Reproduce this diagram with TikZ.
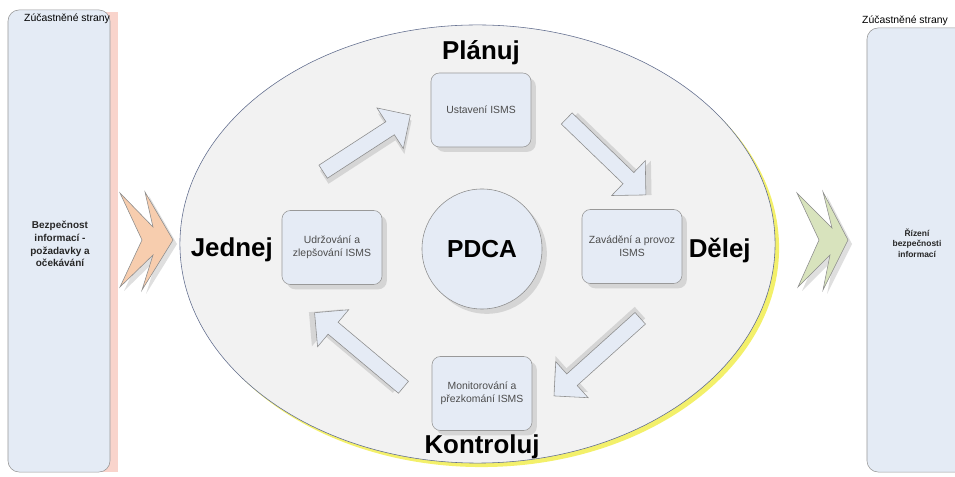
\documentclass[tikz,border=0pt]{standalone}
\usepackage{fontspec}
\setmainfont{Liberation Sans}
\usepackage{xcolor}
\usepackage{tikz}
\usetikzlibrary{shapes.geometric, shapes.arrows, shadows, positioning}

\definecolor{boxblue}{HTML}{E5EBF5}
\definecolor{panelblue}{HTML}{E4EBF5}
\definecolor{ovalgray}{HTML}{F2F2F2}
\definecolor{ovalline}{HTML}{5F6B8C}
\definecolor{peach}{HTML}{F7CDAE}
\definecolor{sage}{HTML}{D8E3BD}
\definecolor{pinkstrip}{HTML}{F9D4CC}
\definecolor{glow}{HTML}{F2EE5A}

\begin{document}
\begin{tikzpicture}[
  x=0.025cm, y=-0.025cm,
  box/.style     = {draw=gray!80, fill=boxblue, rounded corners=6pt, minimum width=2.5cm,
                    minimum height=1.85cm, align=center, text=black!70,
                    font=\fontsize{7.4}{9}\selectfont,
                    drop shadow={shadow xshift=1.2mm, shadow yshift=-1.2mm, opacity=.25}},
  panel/.style   = {draw=gray!80, fill=panelblue, rounded corners=8pt},
  phase/.style   = {inner sep=1pt, font=\fontsize{18.4}{22}\selectfont\bfseries},
  side/.style    = {align=center, text=black!85, font=\fontsize{6}{7.6}\selectfont\bfseries},
  title/.style   = {inner sep=0pt, font=\fontsize{7.4}{9}\selectfont},
  turn/.style n args = {3}{single arrow, draw=gray!90, fill=boxblue, inner sep=0pt,
                    text height=0.375cm, text depth=0pt, text width=0pt,
                    single arrow head extend=0.41cm, rotate=#1,
                    drop shadow={shadow xshift=#2mm, shadow yshift=#3mm, opacity=.25}},
  chevron/.style = {draw=gray!90, line join=miter,
                    drop shadow={shadow xshift=1mm, shadow yshift=-1mm, opacity=.25}}
]
  \useasboundingbox (0,0) rectangle (955,477);

  \fill[pinkstrip] (100,12) rectangle (118,472);
  \node[panel, minimum width=2.55cm, minimum height=11.55cm] (left) at (59,241) {};
  \node[side, font=\fontsize{7.1}{9}\selectfont\bfseries] (ltext) at (60,244)
    {Bezpečnost\\informací -\\požadavky a\\očekávání};
  \node[title] (ltitle) at (67,19) {Zúčastněné strany};

  \node[panel, minimum width=2.7cm, minimum height=11.1cm] (right) at (921,250) {};
  \node[side] (rtext) at (917,243) {Řízení\\bezpečnosti\\informací};
  \node[title] (rtitle) at (905,21) {Zúčastněné strany};

  \node[ellipse, draw=ovalline, fill=ovalgray, minimum width=14.875cm, minimum height=10.95cm,
        drop shadow={shadow xshift=1mm, shadow yshift=-1mm, fill=glow, opacity=.9}]
        (cycle) at (477.5,244) {};

  \path[chevron, fill=peach] (120,193) -- (153,227) -- (145,192) -- (173,240) -- (142,290)
    -- (153,255) -- (120,287) -- (142,240) -- cycle;
  \path[chevron, fill=sage] (797,193) -- (832,228) -- (823,192) -- (848,240) -- (823,290)
    -- (830,255) -- (798,287) -- (819,240) -- cycle;

  \node[box] (plan)  at (481,110)   {Ustavení ISMS};
  \node[box] (do)    at (632,246.5) {Zavádění a provoz\\ISMS};
  \node[box] (check) at (482,393.5) {Monitorování a\\přezkomání ISMS};
  \node[box] (act)   at (332,247.5) {Udržování a\\zlepšování ISMS};

  \node[circle, draw=gray!90, fill=boxblue, minimum size=3cm,
        font=\fontsize{17.5}{21}\selectfont\bfseries,
        drop shadow={shadow xshift=1.2mm, shadow yshift=-1.2mm, opacity=.25}]
        (pdca) at (482,249) {PDCA};

  \node[turn={33}{0.29}{-1.38},   minimum height=2.6cm]  (a1) at (363.5,145.5) {};
  \node[turn={-44}{1.41}{-0.02},  minimum height=2.75cm] (a2) at (603.5,154)   {};
  \node[turn={-138}{-0.07}{1.41}, minimum height=2.9cm]  (a3) at (600,354.5)   {};
  \node[turn={140}{-1.41}{0.12},  minimum height=2.9cm]  (a4) at (362,352.5)   {};

  \node[phase, above=1.5mm of plan] (plan lbl) {Plánuj};
  \node[phase, right=1.2mm of do, yshift=-1mm] (do lbl) {Dělej};
  \node[phase, below=0.5mm of check] (check lbl) {Kontroluj};
  \node[phase, left=1.8mm of act, yshift=-0.5mm] (act lbl) {Jednej};
\end{tikzpicture}
\end{document}
